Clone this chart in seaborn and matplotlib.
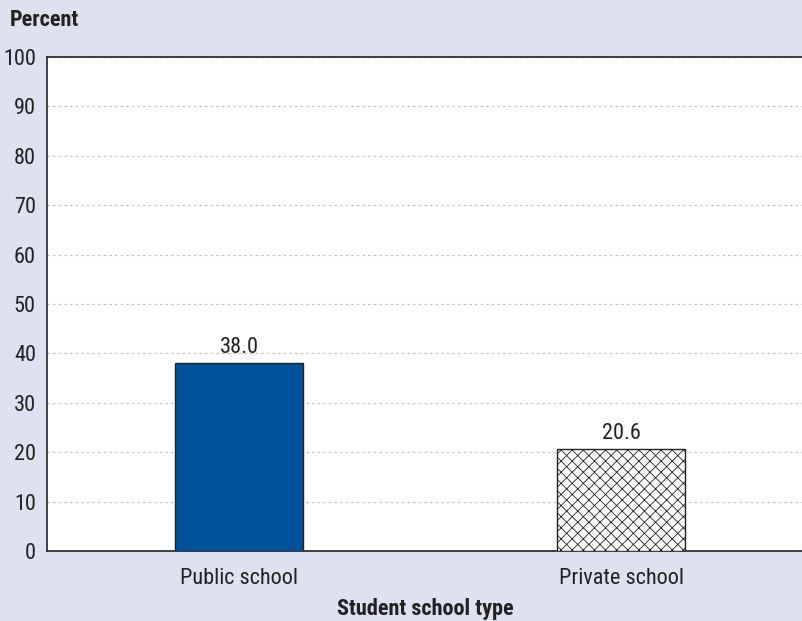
import matplotlib
matplotlib.use("Agg")
import matplotlib.pyplot as plt
import seaborn as sns
import pandas as pd
from matplotlib import font_manager

school_types = ["Public school", "Private school"]
percents = [38.0, 20.6]
yticks = [0, 10, 20, 30, 40, 50, 60, 70, 80, 90, 100]

bg = "#dde1f0"
bar_blue = "#00529b"

sns.set_theme(style="white")
names = {f.name for f in font_manager.fontManager.ttflist}
narrow = [n for n in ["Liberation Sans Narrow", "Roboto Condensed", "Open Sans Condensed"] if n in names]
family = narrow[0] if narrow else "DejaVu Sans"
plt.rcParams["font.family"] = [family, "DejaVu Sans"]
plt.rcParams["font.stretch"] = "condensed"
plt.rcParams["hatch.linewidth"] = 0.6
plt.rcParams["hatch.color"] = "#222222"

df = pd.DataFrame({"type": school_types, "percent": percents})

fig = plt.figure(figsize=(8.03, 6.21), dpi=100, facecolor=bg)
ax = fig.add_axes([47 / 803, 1 - 551 / 621, 1 - 47 / 803, (551 - 57) / 621])
ax.set_facecolor("white")

sns.barplot(data=df, x="type", y="percent", ax=ax, width=0.335, saturation=1,
            palette=[bar_blue, "white"], hue="type", legend=False,
            edgecolor="#222222", linewidth=1.0, zorder=3)
ax.patches[1].set_hatch("xxx")

fs = 16
for i, v in enumerate(percents):
    ax.text(i, v + 1.0, f"{v:.1f}", ha="center", va="bottom", fontsize=fs, color="#222222")

ax.set_xlim(-0.503, 1.476)
ax.set_ylim(0, 100)
ax.set_yticks(yticks)
ax.set_yticklabels([str(t) for t in yticks], fontsize=fs, color="#222222")
ax.tick_params(axis="y", length=0, pad=8)
ax.tick_params(axis="x", length=0, pad=12, labelsize=fs, colors="#222222")
ax.yaxis.grid(True, linestyle=(0, (2, 2.5)), color="#c4c4c4", linewidth=0.9, zorder=0)
ax.set_axisbelow(True)

for side in ["top", "left", "bottom"]:
    ax.spines[side].set_visible(True)
    ax.spines[side].set_color("#222222")
    ax.spines[side].set_linewidth(1.2)
ax.spines["right"].set_visible(False)

ax.set_ylabel("")
ax.set_xlabel("Student school type", fontsize=fs, fontweight="bold", color="#222222", labelpad=7)
fig.text(10 / 803, 1 - 20 / 621, "Percent", fontsize=fs, fontweight="bold",
         color="#222222", ha="left", va="center")

fig.savefig("out.png", dpi=100, facecolor=bg)
